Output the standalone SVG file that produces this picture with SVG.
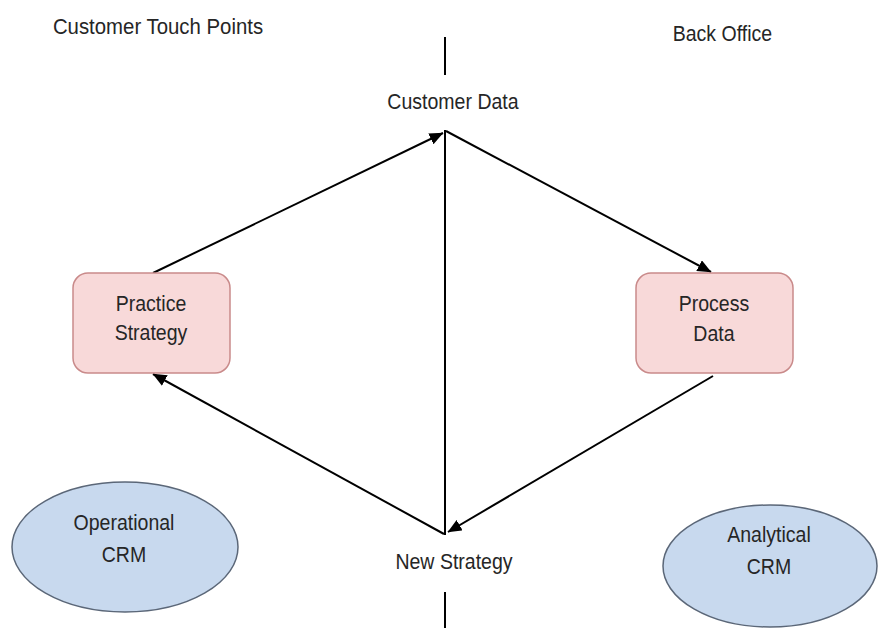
<svg xmlns="http://www.w3.org/2000/svg" width="879" height="628" viewBox="0 0 879 628">
  <defs>
    <marker id="arrow" viewBox="0 0 14 12" refX="13.5" refY="6" markerWidth="14" markerHeight="12" markerUnits="userSpaceOnUse" orient="auto">
      <path d="M0,0 L14,6 L0,12 Z" fill="#000"/>
    </marker>
    <style>
      text { font-family: "Liberation Sans", Arial, sans-serif; font-size: 21px; fill: #262626;
             transform-box: fill-box; transform-origin: 50% 50%; transform: scale(0.93, 1.08); }
      .mid { text-anchor: middle; }
      .box { fill: #f8d9d9; stroke: #c98a8a; stroke-width: 1.5; }
      .oval { fill: #c8d9ee; stroke: #5b6778; stroke-width: 1.5; }
      .line { stroke: #000; stroke-width: 2; fill: none; }
      .flow { stroke: #000; stroke-width: 2; fill: none; marker-end: url(#arrow); }
    </style>
  </defs>
  <rect width="879" height="628" fill="#fff"/>

  <!-- zone headings -->
  <text x="45" y="33" textLength="226" lengthAdjust="spacingAndGlyphs">Customer Touch Points</text>
  <text x="669" y="40">Back Office</text>

  <!-- divider and cycle connectors -->
  <g id="connectors">
    <line class="line" x1="445" y1="37" x2="445" y2="75"/>
    <line class="line" x1="445" y1="130" x2="445" y2="535"/>
    <line class="line" x1="445" y1="592" x2="445" y2="628"/>
    <path class="flow" d="M153,273 L443,133"/>
    <path class="flow" d="M446,131 L711,272"/>
    <path class="flow" d="M713,376 L448,532"/>
    <path class="flow" d="M444,534 L153,374"/>
  </g>

  <g id="customer-data">
    <text class="mid" x="453" y="108">Customer Data</text>
  </g>

  <g id="new-strategy">
    <text class="mid" x="454" y="568">New Strategy</text>
  </g>

  <g id="practice-strategy">
    <rect class="box" x="73" y="273" width="157" height="100" rx="15"/>
    <text class="mid" x="151" y="310">Practice</text>
    <text class="mid" x="151" y="339">Strategy</text>
  </g>

  <g id="process-data">
    <rect class="box" x="636" y="273" width="157" height="100" rx="15"/>
    <text class="mid" x="714" y="310">Process</text>
    <text class="mid" x="714" y="340">Data</text>
  </g>

  <g id="operational-crm">
    <ellipse class="oval" cx="125" cy="547" rx="113" ry="65"/>
    <text class="mid" x="124" y="529">Operational</text>
    <text class="mid" x="124" y="561">CRM</text>
  </g>

  <g id="analytical-crm">
    <ellipse class="oval" cx="770" cy="566" rx="107" ry="61"/>
    <text class="mid" x="769" y="541">Analytical</text>
    <text class="mid" x="769" y="573">CRM</text>
  </g>
</svg>
